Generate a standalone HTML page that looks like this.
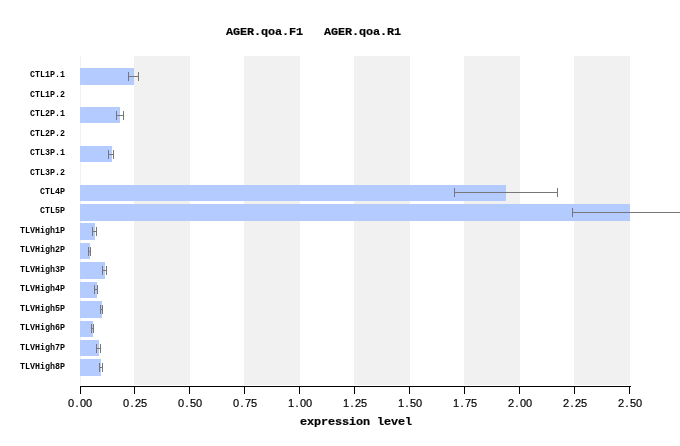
<!DOCTYPE html>
<html><head><meta charset="utf-8"><title>expression chart</title>
<style>
html,body{margin:0;padding:0;background:#fff;}
body{width:680px;height:446px;position:relative;overflow:hidden;}
.r{position:absolute;}
.lab,.tk,.ttl{position:absolute;white-space:pre;color:#000;line-height:1;will-change:transform;}
.lab{font-family:"Liberation Mono","DejaVu Sans Mono",monospace;font-size:8.33px;font-weight:bold;transform:scaleY(1.1);transform-origin:0 0;}
.tk{font-family:"Liberation Sans","DejaVu Sans",sans-serif;font-size:11px;-webkit-text-stroke:0.2px #000;}
.c{display:inline-block;width:6px;text-align:center;}
.ttl{font-family:"Liberation Mono","DejaVu Sans Mono",monospace;font-size:11.8px;letter-spacing:-0.08px;font-weight:bold;-webkit-text-stroke:0.2px #000;transform:none;}
</style></head><body>
<div class="r" style="left:80px;top:56px;width:1px;height:329px;background:#f1f1f1"></div>
<div class="r" style="left:134px;top:56px;width:56px;height:329px;background:#f1f1f1"></div>
<div class="r" style="left:244px;top:56px;width:56px;height:329px;background:#f1f1f1"></div>
<div class="r" style="left:354px;top:56px;width:56px;height:329px;background:#f1f1f1"></div>
<div class="r" style="left:464px;top:56px;width:56px;height:329px;background:#f1f1f1"></div>
<div class="r" style="left:574px;top:56px;width:56px;height:329px;background:#f1f1f1"></div>
<div class="r" style="left:80px;top:68px;width:54px;height:17px;background:#b3cbff"></div>
<div class="r" style="left:80px;top:107px;width:40px;height:16px;background:#b3cbff"></div>
<div class="r" style="left:80px;top:146px;width:32px;height:16px;background:#b3cbff"></div>
<div class="r" style="left:80px;top:185px;width:426px;height:16px;background:#b3cbff"></div>
<div class="r" style="left:80px;top:204px;width:550px;height:17px;background:#b3cbff"></div>
<div class="r" style="left:80px;top:223px;width:15px;height:17px;background:#b3cbff"></div>
<div class="r" style="left:80px;top:243px;width:10px;height:16px;background:#b3cbff"></div>
<div class="r" style="left:80px;top:262px;width:25px;height:17px;background:#b3cbff"></div>
<div class="r" style="left:80px;top:282px;width:17px;height:16px;background:#b3cbff"></div>
<div class="r" style="left:80px;top:301px;width:22px;height:17px;background:#b3cbff"></div>
<div class="r" style="left:80px;top:321px;width:13px;height:16px;background:#b3cbff"></div>
<div class="r" style="left:80px;top:340px;width:19px;height:16px;background:#b3cbff"></div>
<div class="r" style="left:80px;top:359px;width:21px;height:17px;background:#b3cbff"></div>
<div class="r" style="left:128px;top:76px;width:11px;height:1px;background:#777777"></div>
<div class="r" style="left:128px;top:72px;width:1px;height:9px;background:#777777"></div>
<div class="r" style="left:138px;top:72px;width:1px;height:9px;background:#777777"></div>
<div class="r" style="left:116px;top:115px;width:8px;height:1px;background:#777777"></div>
<div class="r" style="left:116px;top:111px;width:1px;height:9px;background:#777777"></div>
<div class="r" style="left:123px;top:111px;width:1px;height:9px;background:#777777"></div>
<div class="r" style="left:108px;top:154px;width:6px;height:1px;background:#777777"></div>
<div class="r" style="left:108px;top:150px;width:1px;height:9px;background:#777777"></div>
<div class="r" style="left:113px;top:150px;width:1px;height:9px;background:#777777"></div>
<div class="r" style="left:454px;top:192px;width:104px;height:1px;background:#777777"></div>
<div class="r" style="left:454px;top:188px;width:1px;height:9px;background:#777777"></div>
<div class="r" style="left:557px;top:188px;width:1px;height:9px;background:#777777"></div>
<div class="r" style="left:572px;top:212px;width:108px;height:1px;background:#777777"></div>
<div class="r" style="left:572px;top:208px;width:1px;height:9px;background:#777777"></div>
<div class="r" style="left:92px;top:231px;width:5px;height:1px;background:#777777"></div>
<div class="r" style="left:92px;top:227px;width:1px;height:9px;background:#777777"></div>
<div class="r" style="left:96px;top:227px;width:1px;height:9px;background:#777777"></div>
<div class="r" style="left:88px;top:251px;width:3px;height:1px;background:#777777"></div>
<div class="r" style="left:88px;top:247px;width:1px;height:9px;background:#777777"></div>
<div class="r" style="left:90px;top:247px;width:1px;height:9px;background:#777777"></div>
<div class="r" style="left:102px;top:270px;width:5px;height:1px;background:#777777"></div>
<div class="r" style="left:102px;top:266px;width:1px;height:9px;background:#777777"></div>
<div class="r" style="left:106px;top:266px;width:1px;height:9px;background:#777777"></div>
<div class="r" style="left:94px;top:289px;width:4px;height:1px;background:#777777"></div>
<div class="r" style="left:94px;top:285px;width:1px;height:9px;background:#777777"></div>
<div class="r" style="left:97px;top:285px;width:1px;height:9px;background:#777777"></div>
<div class="r" style="left:100px;top:309px;width:3px;height:1px;background:#777777"></div>
<div class="r" style="left:100px;top:305px;width:1px;height:9px;background:#777777"></div>
<div class="r" style="left:102px;top:305px;width:1px;height:9px;background:#777777"></div>
<div class="r" style="left:91px;top:328px;width:3px;height:1px;background:#777777"></div>
<div class="r" style="left:91px;top:324px;width:1px;height:9px;background:#777777"></div>
<div class="r" style="left:93px;top:324px;width:1px;height:9px;background:#777777"></div>
<div class="r" style="left:96px;top:348px;width:5px;height:1px;background:#777777"></div>
<div class="r" style="left:96px;top:344px;width:1px;height:9px;background:#777777"></div>
<div class="r" style="left:100px;top:344px;width:1px;height:9px;background:#777777"></div>
<div class="r" style="left:99px;top:367px;width:4px;height:1px;background:#777777"></div>
<div class="r" style="left:99px;top:363px;width:1px;height:9px;background:#777777"></div>
<div class="r" style="left:102px;top:363px;width:1px;height:9px;background:#777777"></div>
<div class="r" style="left:80px;top:386px;width:551px;height:1px;background:#000"></div>
<div class="r" style="left:80px;top:386px;width:1px;height:8px;background:#000"></div>
<div class="r" style="left:134px;top:386px;width:1px;height:8px;background:#000"></div>
<div class="r" style="left:189px;top:386px;width:1px;height:8px;background:#000"></div>
<div class="r" style="left:244px;top:386px;width:1px;height:8px;background:#000"></div>
<div class="r" style="left:299px;top:386px;width:1px;height:8px;background:#000"></div>
<div class="r" style="left:354px;top:386px;width:1px;height:8px;background:#000"></div>
<div class="r" style="left:409px;top:386px;width:1px;height:8px;background:#000"></div>
<div class="r" style="left:464px;top:386px;width:1px;height:8px;background:#000"></div>
<div class="r" style="left:519px;top:386px;width:1px;height:8px;background:#000"></div>
<div class="r" style="left:574px;top:386px;width:1px;height:8px;background:#000"></div>
<div class="r" style="left:629px;top:386px;width:1px;height:8px;background:#000"></div>
<div class="lab" style="left:30px;top:70.00px">CTL1P.1</div>
<div class="lab" style="left:30px;top:90.00px">CTL1P.2</div>
<div class="lab" style="left:30px;top:109.00px">CTL2P.1</div>
<div class="lab" style="left:30px;top:129.00px">CTL2P.2</div>
<div class="lab" style="left:30px;top:148.00px">CTL3P.1</div>
<div class="lab" style="left:30px;top:168.00px">CTL3P.2</div>
<div class="lab" style="left:40px;top:187.00px">CTL4P</div>
<div class="lab" style="left:40px;top:206.00px">CTL5P</div>
<div class="lab" style="left:20px;top:226.00px">TLVHigh1P</div>
<div class="lab" style="left:20px;top:245.00px">TLVHigh2P</div>
<div class="lab" style="left:20px;top:265.00px">TLVHigh3P</div>
<div class="lab" style="left:20px;top:284.00px">TLVHigh4P</div>
<div class="lab" style="left:20px;top:304.00px">TLVHigh5P</div>
<div class="lab" style="left:20px;top:323.00px">TLVHigh6P</div>
<div class="lab" style="left:20px;top:343.00px">TLVHigh7P</div>
<div class="lab" style="left:20px;top:362.00px">TLVHigh8P</div>
<div class="tk" style="left:68px;top:398px"><span class="c">0</span><span class="c">.</span><span class="c">0</span><span class="c">0</span></div>
<div class="tk" style="left:123px;top:398px"><span class="c">0</span><span class="c">.</span><span class="c">2</span><span class="c">5</span></div>
<div class="tk" style="left:178px;top:398px"><span class="c">0</span><span class="c">.</span><span class="c">5</span><span class="c">0</span></div>
<div class="tk" style="left:233px;top:398px"><span class="c">0</span><span class="c">.</span><span class="c">7</span><span class="c">5</span></div>
<div class="tk" style="left:288px;top:398px"><span class="c">1</span><span class="c">.</span><span class="c">0</span><span class="c">0</span></div>
<div class="tk" style="left:343px;top:398px"><span class="c">1</span><span class="c">.</span><span class="c">2</span><span class="c">5</span></div>
<div class="tk" style="left:398px;top:398px"><span class="c">1</span><span class="c">.</span><span class="c">5</span><span class="c">0</span></div>
<div class="tk" style="left:453px;top:398px"><span class="c">1</span><span class="c">.</span><span class="c">7</span><span class="c">5</span></div>
<div class="tk" style="left:508px;top:398px"><span class="c">2</span><span class="c">.</span><span class="c">0</span><span class="c">0</span></div>
<div class="tk" style="left:563px;top:398px"><span class="c">2</span><span class="c">.</span><span class="c">2</span><span class="c">5</span></div>
<div class="tk" style="left:618px;top:398px"><span class="c">2</span><span class="c">.</span><span class="c">5</span><span class="c">0</span></div>
<div class="ttl" style="left:226px;top:26.5px">AGER.qoa.F1&nbsp;&nbsp;&nbsp;AGER.qoa.R1</div>
<div class="ttl" style="left:300px;top:416.6px">expression level</div>
</body></html>
